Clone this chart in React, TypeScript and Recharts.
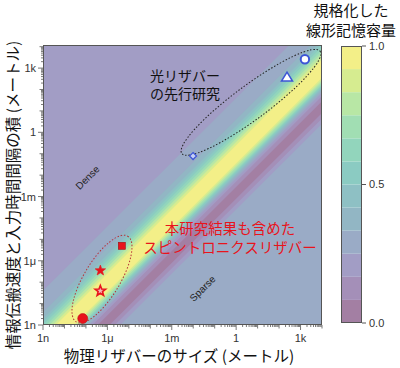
import React from "react";
import { ComposedChart, Area, Scatter, XAxis, YAxis, ReferenceDot, BarChart, Bar } from "recharts";

// labelled decades on both log axes
const tickValues = [1e-9, 1e-6, 1e-3, 1, 1e3];
const tickLabels = ["1n", "1μ", "1m", "1", "1k"];

const xDomain = [1e-9, 1e4];
const yDomain = [1e-9, 1.2e4];

// filled contour bands along log10(y / x): lower edge of each band and its level (0..11)
const bandEdges = [-30, -3.6, -3.35, -3.1, -2.55, -2.3, -2.15, -2.05, -1.97, -1.9, -1.82, -1.75, -1.65, -1.55, -1.45, -0.6, -0.45, -0.3, -0.15, 0, 0.15, 0.3, 0.6, 1.6, 3.2];
const bandLevels = [3, 2, 1, 0, 1, 2, 3, 4, 5, 6, 7, 8, 9, 10, 11, 10, 9, 8, 7, 6, 5, 4, 3, 2, 2];

// colour of each level (viridis, half transparent on white)
const levelColors = [
  "#a37fa3", "#a48fb8", "#a29dc5", "#9aabc6", "#92b6c4", "#8ec0c4",
  "#8bcbc2", "#92d5bc", "#a1deb3", "#b8e7a5", "#d6ec90", "#f3ef88",
];
const colorbarLevels = [0, 1, 2, 3, 4, 5, 6, 7, 8, 9, 10, 11];

// previous optical reservoirs
const opticalCircle = [{ x: 1.6e3, y: 2.6e3 }];
const opticalTriangle = [{ x: 234, y: 380 }];
const opticalDiamond = [{ x: 0.0098, y: 0.078 }];

// spintronic reservoirs
const spinSquare = [{ x: 4.7e-6, y: 5.0e-6 }];
const spinStarFilled = [{ x: 4.7e-7, y: 3.5e-7 }];
const spinStarOpen = [{ x: 4.7e-7, y: 3.9e-8 }];
const spinCircle = [{ x: 7.1e-8, y: 2.0e-9 }];

// centres of the dotted group outlines
const opticalGroup = { x: 4.9, y: 25 };
const spinGroup = { x: 5.6e-7, y: 1.4e-7 };

const bandData = xDomain.map((x) => {
  const row: any = { x };
  bandEdges.forEach((e, i) => {
    row["b" + i] = [x * Math.pow(10, e), 1e30];
  });
  return row;
});

const colorbarData = [
  Object.fromEntries(colorbarLevels.map((l) => ["l" + l, 1 / colorbarLevels.length])),
];

const logTicks = (max: number) => {
  const out: number[] = [];
  for (let d = -9; d <= 4; d++) {
    for (let m = 1; m < 10; m++) {
      const v = m * Math.pow(10, d);
      if (v <= max * 1.0001) out.push(v);
    }
  }
  return out;
};
const xTicks = logTicks(xDomain[1]);
const yTicks = logTicks(yDomain[1]);

const tickKind = (v: number) => {
  const lg = Math.log10(v);
  const major = tickValues.findIndex((t) => Math.abs(Math.log10(t) - lg) < 1e-6);
  const decade = Math.abs(lg - Math.round(lg)) < 1e-6;
  return { major, len: major >= 0 ? 5 : decade ? 3.5 : 2 };
};

const XTick = (props: any) => {
  const { x, y, payload } = props;
  const { major, len } = tickKind(payload.value);
  return (
    <g>
      <line x1={x} x2={x} y1={y} y2={y + len} stroke="#555" strokeWidth={0.8} />
      {major >= 0 && (
        <text x={x} y={y + 17} textAnchor="middle" fontSize={11} fill="#333">
          {tickLabels[major]}
        </text>
      )}
    </g>
  );
};

const YTick = (props: any) => {
  const { x, y, payload } = props;
  const { major, len } = tickKind(payload.value);
  return (
    <g>
      <line x1={x} x2={x - len} y1={y} y2={y} stroke="#555" strokeWidth={0.8} />
      {major >= 0 && (
        <text x={x - 7} y={y + 4} textAnchor="end" fontSize={11} fill="#333">
          {tickLabels[major]}
        </text>
      )}
    </g>
  );
};

const starPath = (cx: number, cy: number, R: number) => {
  const pts: string[] = [];
  for (let i = 0; i < 10; i++) {
    const r = i % 2 === 0 ? R : R * 0.42;
    const a = -Math.PI / 2 + (i * Math.PI) / 5;
    pts.push(`${cx + r * Math.cos(a)},${cy + r * Math.sin(a)}`);
  }
  return "M" + pts.join("L") + "Z";
};

const BLUE = "#3d55d6";
const RED = "#e8141c";
const jp = "'Noto Sans CJK JP', sans-serif";

export default function App() {
  return (
    <div style={{ position: "absolute", left: 0, top: 0, width: 400, height: 368, background: "#fff", fontFamily: "'Liberation Sans', Arial, sans-serif" }}>
      <div style={{ position: "absolute", left: 0, top: 0 }}>
        <ComposedChart width={400} height={368} data={bandData} margin={{ top: 45, right: 78, bottom: 23, left: 8 }}>
          <XAxis
            type="number"
            dataKey="x"
            scale="log"
            domain={xDomain}
            allowDataOverflow
            ticks={xTicks}
            interval={0}
            tickSize={0}
            tickMargin={0}
            tickLine={false}
            axisLine={false}
            height={20}
            tick={(p: any) => <XTick {...p} />}
          />
          <YAxis
            type="number"
            scale="log"
            domain={yDomain}
            allowDataOverflow
            ticks={yTicks}
            interval={0}
            tickSize={0}
            tickMargin={0}
            tickLine={false}
            axisLine={false}
            width={35}
            tick={(p: any) => <YTick {...p} />}
          />
          {bandEdges.map((e, i) => (
            <Area
              key={"b" + i}
              dataKey={"b" + i}
              type="linear"
              fill={levelColors[bandLevels[i]]}
              fillOpacity={1}
              stroke="none"
              dot={false}
              activeDot={false}
              isAnimationActive={false}
            />
          ))}
          <ReferenceDot
            x={opticalGroup.x}
            y={opticalGroup.y}
            ifOverflow="visible"
            shape={(p: any) => (
              <ellipse cx={p.cx} cy={p.cy} rx={86} ry={17} transform={`rotate(-36.5 ${p.cx} ${p.cy})`} fill="none" stroke="#222" strokeWidth={1} strokeDasharray="1.5 1.8" />
            )}
          />
          <ReferenceDot
            x={spinGroup.x}
            y={spinGroup.y}
            ifOverflow="visible"
            shape={(p: any) => (
              <ellipse cx={p.cx} cy={p.cy} rx={50} ry={18} transform={`rotate(-59 ${p.cx} ${p.cy})`} fill="none" stroke="#b5333a" strokeWidth={1} strokeDasharray="1.5 1.8" />
            )}
          />
          <Scatter data={opticalCircle} dataKey="y" isAnimationActive={false}
            shape={(p: any) => <circle cx={p.cx} cy={p.cy} r={4.2} fill="#fff" stroke={BLUE} strokeWidth={2} />} />
          <Scatter data={opticalTriangle} dataKey="y" isAnimationActive={false}
            shape={(p: any) => <path d={`M${p.cx},${p.cy - 5}L${p.cx + 5.5},${p.cy + 4}L${p.cx - 5.5},${p.cy + 4}Z`} fill="#fff" stroke={BLUE} strokeWidth={1.5} />} />
          <Scatter data={opticalDiamond} dataKey="y" isAnimationActive={false}
            shape={(p: any) => <path d={`M${p.cx},${p.cy - 3.5}L${p.cx + 3.5},${p.cy}L${p.cx},${p.cy + 3.5}L${p.cx - 3.5},${p.cy}Z`} fill="#c6cff5" stroke={BLUE} strokeWidth={1.2} />} />
          <Scatter data={spinSquare} dataKey="y" isAnimationActive={false}
            shape={(p: any) => <rect x={p.cx - 3.5} y={p.cy - 3.5} width={7} height={7} fill={RED} stroke="#a01015" strokeWidth={0.6} />} />
          <Scatter data={spinStarFilled} dataKey="y" isAnimationActive={false}
            shape={(p: any) => <path d={starPath(p.cx, p.cy, 5.5)} fill={RED} stroke={RED} strokeWidth={0.6} />} />
          <Scatter data={spinStarOpen} dataKey="y" isAnimationActive={false}
            shape={(p: any) => <path d={starPath(p.cx, p.cy, 5.5)} fill="#f6b3b3" stroke={RED} strokeWidth={1.6} />} />
          <Scatter data={spinCircle} dataKey="y" isAnimationActive={false}
            shape={(p: any) => <circle cx={p.cx} cy={p.cy} r={5} fill={RED} stroke="#c01017" strokeWidth={0.6} />} />
        </ComposedChart>
      </div>

      <div style={{ position: "absolute", left: 341, top: 0 }}>
        <BarChart width={59} height={368} data={colorbarData} margin={{ top: 46, right: 0, bottom: 45, left: 0 }} barCategoryGap={0}>
          <XAxis hide />
          <YAxis
            orientation="right"
            type="number"
            domain={[0, 1]}
            ticks={[0, 0.5, 1]}
            tickFormatter={(v: number) => v.toFixed(1)}
            width={38}
            tickSize={4}
            tickMargin={3}
            axisLine={false}
            tickLine={{ stroke: "#555" }}
            tick={{ fontSize: 11, fill: "#333" }}
          />
          {colorbarLevels.map((l) => (
            <Bar key={l} dataKey={"l" + l} stackId="c" fill={levelColors[l]} isAnimationActive={false} />
          ))}
        </BarChart>
      </div>

      <svg width={400} height={368} style={{ position: "absolute", left: 0, top: 0, pointerEvents: "none" }}>
        <rect x={43.5} y={45.5} width={278} height={279} fill="none" stroke="#555" strokeWidth={1} />
        <rect x={341.5} y={46.5} width={20} height={276} fill="none" stroke="#555" strokeWidth={1} />

        <text x={150} y={80.5} fontSize={14} fontFamily={jp} fill="#111">光リザバー</text>
        <text x={150} y={99} fontSize={14} fontFamily={jp} fill="#111">の先行研究</text>

        <text x={230} y={234} fontSize={14.5} fontFamily={jp} fill={RED} textAnchor="middle">本研究結果も含めた</text>
        <text x={230} y={253} fontSize={14.5} fontFamily={jp} fill={RED} textAnchor="middle">スピントロニクスリザバー</text>

        <text transform="translate(90,180) rotate(-45)" fontSize={10} textAnchor="middle" fill="#222">Dense</text>
        <text transform="translate(205,291) rotate(-45)" fontSize={10} textAnchor="middle" fill="#222">Sparse</text>

        <text transform="translate(19,195) rotate(-90)" fontSize={15.5} fontFamily={jp} textAnchor="middle" fill="#111">情報伝搬速度と入力時間間隔の積 (メートル)</text>
        <text x={179} y={362} fontSize={15.5} fontFamily={jp} textAnchor="middle" fill="#111">物理リザバーのサイズ (メートル)</text>

        <text x={351} y={16} fontSize={15} fontFamily={jp} textAnchor="middle" fill="#111">規格化した</text>
        <text x={351} y={35.5} fontSize={15} fontFamily={jp} textAnchor="middle" fill="#111">線形記憶容量</text>
      </svg>
    </div>
  );
}
